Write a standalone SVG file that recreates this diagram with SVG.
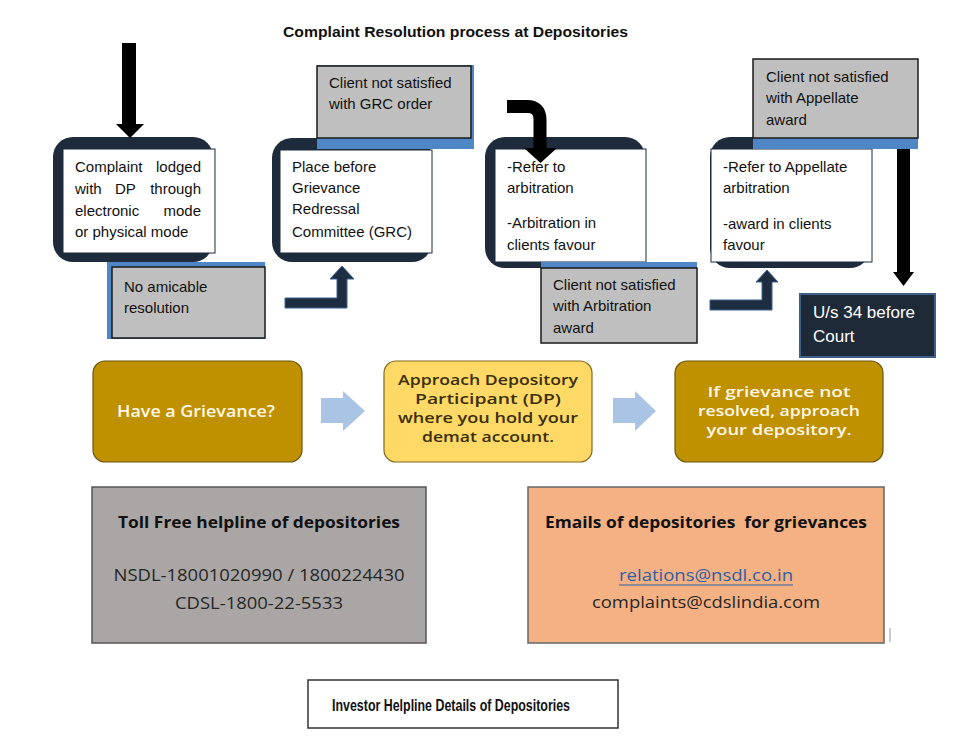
<svg xmlns="http://www.w3.org/2000/svg" width="962" height="743" viewBox="0 0 962 743">
<style>
.bg{fill:#ffffff}
.dark{fill:#1d2b3c}
.white{fill:#ffffff;stroke:#1d2b3c;stroke-width:1}
.gray{fill:#bfbfbf;stroke:#1a1a1a;stroke-width:1.5}
.blue{fill:#4f86c6}
.t{font-family:"Liberation Sans",Arial,sans-serif;font-size:15px;fill:#111111}
.tw{font-family:"Liberation Sans",Arial,sans-serif;font-size:17px;fill:#ffffff}
.title{font-family:"Liberation Sans",Arial,sans-serif;font-size:15px;font-weight:bold;fill:#111111}
.gold{fill:#bf9000;stroke:#6b5510;stroke-width:1.2}
.yellow{fill:#ffd966;stroke:#7f6a1e;stroke-width:1.2}
.m{font-family:"Open Sans","Noto Sans",sans-serif;font-size:13.9px;font-weight:600;text-anchor:middle}
.mw{fill:#fff8e8}
.md{fill:#3a2e05}
.b{font-family:"Open Sans","Noto Sans",sans-serif;font-size:16px;text-anchor:middle;fill:#262626}
.bb{font-weight:bold;fill:#111111}
.black{fill:#000000}
.navy{fill:#1f2d40;stroke:#3b6290;stroke-width:1}
.lb{fill:#aac4e6}
</style>
<rect class="bg" x="0" y="0" width="962" height="743"/>
<text class="title" x="283" y="37" textLength="345" lengthAdjust="spacingAndGlyphs">Complaint Resolution process at Depositories</text>

<g id="node-complaint">
<rect class="dark" x="53" y="137" width="160" height="125" rx="20"/>
<rect class="white" x="63" y="149" width="152" height="104"/>
<text class="t" x="75" y="172">Complaint</text>
<text class="t" x="201" y="172" text-anchor="end">lodged</text>
<text class="t" x="75" y="194">with</text>
<text class="t" x="115" y="194">DP</text>
<text class="t" x="201" y="194" text-anchor="end">through</text>
<text class="t" x="75" y="216">electronic</text>
<text class="t" x="201" y="216" text-anchor="end">mode</text>
<text class="t" x="75" y="237">or physical mode</text>
</g>

<g id="node-no-amicable">
<rect class="blue" x="107" y="262" width="158" height="77"/>
<rect class="gray" x="112" y="267" width="153" height="71"/>
<text class="t" x="124" y="292">No amicable</text>
<text class="t" x="124" y="313">resolution</text>
</g>

<g id="node-grc">
<rect class="dark" x="272" y="138" width="160" height="124" rx="20"/>
<rect class="white" x="280" y="150" width="152" height="103"/>
<text class="t" x="292" y="172">Place before</text>
<text class="t" x="292" y="193">Grievance</text>
<text class="t" x="292" y="214">Redressal</text>
<text class="t" x="292" y="237">Committee (GRC)</text>
</g>

<g id="node-grc-unsatisfied">
<rect class="blue" x="317" y="65" width="157" height="84"/>
<rect class="gray" x="317" y="66" width="154" height="72"/>
<text class="t" x="329" y="88">Client not satisfied</text>
<text class="t" x="329" y="109">with GRC order</text>
</g>

<g id="node-arbitration">
<rect class="dark" x="485" y="137" width="160" height="131" rx="20"/>
<rect class="white" x="495" y="149" width="151" height="113"/>
<text class="t" x="507" y="172">-Refer to</text>
<text class="t" x="507" y="193">arbitration</text>
<text class="t" x="507" y="228">-Arbitration in</text>
<text class="t" x="507" y="250">clients favour</text>
</g>

<g id="node-arbitration-unsatisfied">
<rect class="blue" x="541" y="262" width="156" height="10"/>
<rect class="gray" x="541" y="268" width="156" height="75"/>
<text class="t" x="553" y="290">Client not satisfied</text>
<text class="t" x="553" y="311">with Arbitration</text>
<text class="t" x="553" y="333">award</text>
</g>

<g id="node-appellate">
<rect class="dark" x="710" y="137" width="160" height="131" rx="20"/>
<rect class="white" x="711" y="149" width="161" height="113"/>
<text class="t" x="723" y="172">-Refer to Appellate</text>
<text class="t" x="723" y="193">arbitration</text>
<text class="t" x="723" y="229">-award in clients</text>
<text class="t" x="723" y="250">favour</text>
</g>

<g id="node-appellate-unsatisfied">
<rect class="blue" x="753" y="130" width="165" height="19"/>
<rect class="gray" x="753" y="59" width="165" height="79"/>
<text class="t" x="766" y="82">Client not satisfied</text>
<text class="t" x="766" y="103">with Appellate</text>
<text class="t" x="766" y="125">award</text>
</g>

<g id="node-court">
<rect x="800" y="294" width="135" height="63" fill="#1f2a38" stroke="#3e5f87" stroke-width="2"/>
<text class="tw" x="813" y="318">U/s 34 before</text>
<text class="tw" x="813" y="342">Court</text>
</g>

<g id="node-have-grievance">
<rect class="gold" x="93" y="361" width="209" height="101" rx="12"/>
<text class="m mw" x="196" y="417" style="font-size:16.5px" textLength="158" lengthAdjust="spacingAndGlyphs">Have a Grievance?</text>
</g>

<g id="node-approach-dp">
<rect class="yellow" x="384" y="361" width="208" height="101" rx="12"/>
<text class="m md" x="488" y="385" textLength="180" lengthAdjust="spacingAndGlyphs">Approach Depository</text>
<text class="m md" x="488" y="404" textLength="146" lengthAdjust="spacingAndGlyphs">Participant (DP)</text>
<text class="m md" x="488" y="423" textLength="180" lengthAdjust="spacingAndGlyphs">where you hold your</text>
<text class="m md" x="488" y="442" textLength="132" lengthAdjust="spacingAndGlyphs">demat account.</text>
</g>

<g id="node-approach-depository">
<rect class="gold" x="675" y="361" width="208" height="101" rx="12"/>
<text class="m mw" x="779" y="397" textLength="143" lengthAdjust="spacingAndGlyphs">If grievance not</text>
<text class="m mw" x="779" y="416" textLength="162" lengthAdjust="spacingAndGlyphs">resolved, approach</text>
<text class="m mw" x="779" y="435" textLength="145" lengthAdjust="spacingAndGlyphs">your depository.</text>
</g>

<g id="node-tollfree">
<rect x="92" y="487" width="334" height="156" fill="#aaa6a5" stroke="#555555" stroke-width="1.5"/>
<text class="b bb" x="259" y="528" textLength="282" lengthAdjust="spacingAndGlyphs">Toll Free helpline of depositories</text>
<text class="b" x="259" y="581" textLength="291" lengthAdjust="spacingAndGlyphs">NSDL-18001020990 / 1800224430</text>
<text class="b" x="259" y="609" textLength="168" lengthAdjust="spacingAndGlyphs">CDSL-1800-22-5533</text>
</g>

<g id="node-emails">
<rect x="528" y="487" width="356" height="156" fill="#f4b183" stroke="#666666" stroke-width="1.5"/>
<text class="b bb" x="706" y="528" textLength="322" lengthAdjust="spacingAndGlyphs" xml:space="preserve">Emails of depositories  for grievances</text>
<text class="b" x="706" y="581" style="fill:#2f5fa8" textLength="174" lengthAdjust="spacingAndGlyphs">relations@nsdl.co.in</text>
<line x1="619" y1="585" x2="793" y2="585" stroke="#2f5fa8" stroke-width="1.2"/>
<text class="b" x="706" y="608" textLength="228" lengthAdjust="spacingAndGlyphs">complaints@cdslindia.com</text>
<line x1="890" y1="628" x2="890" y2="642" stroke="#999999" stroke-width="1"/>
</g>

<g id="node-helpline">
<rect x="308" y="680" width="310" height="48" fill="#ffffff" stroke="#333333" stroke-width="1.5"/>
<text class="title" x="332" y="711" style="font-size:17px" textLength="238" lengthAdjust="spacingAndGlyphs">Investor Helpline Details of Depositories</text>
</g>

<g id="connectors">
<path class="black" d="M122,43 H136 V124 H144 L130,138 L116,124 H122 Z"/>
<path d="M507,106.5 H527 Q540,106.5 540,119.5 V149" fill="none" stroke="#000000" stroke-width="13"/>
<polygon class="black" points="524,148 557,148 540.5,163"/>
<path class="black" d="M897,149 H910 V272 H914 L903.5,286 L893,272 H897 Z"/>
<path class="navy" d="M285,298 H337 V279 H330 L342,266 L354,279 H347 V308 H285 Z"/>
<path class="navy" d="M710,300 H762 V282 H756 L767,270 L778,282 H772 V310 H710 Z"/>
<path class="lb" d="M321,398 H343 V391 L365,411 L343,431 V423 H321 Z"/>
<path class="lb" d="M613,398 H635 V391 L656,411 L635,431 V423 H613 Z"/>
</g>
</svg>
